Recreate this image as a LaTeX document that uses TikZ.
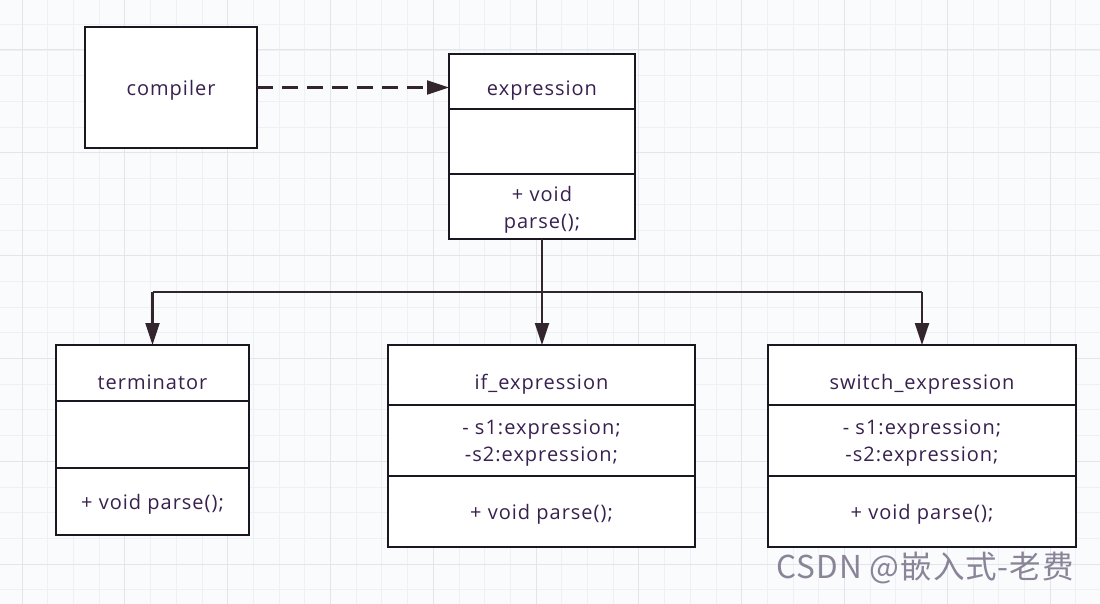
\documentclass[tikz,border=0pt]{standalone}
\usepackage{fontspec}
\setmainfont{Open Sans}[LetterSpace=5]
\newfontfamily\cjk{Noto Sans CJK SC}[LetterSpace=3]
\usetikzlibrary{arrows.meta}
\definecolor{gridmaj}{HTML}{E2E6EA}
\definecolor{gridmin}{HTML}{EEF1F4}
\definecolor{bgc}{HTML}{FAFBFD}
\definecolor{txt}{HTML}{38204F}
\definecolor{edgec}{HTML}{1B1722}
\definecolor{arrc}{HTML}{33252D}
\definecolor{wmc}{HTML}{8A8498}
\begin{document}
\begin{tikzpicture}[x=1pt,y=-1pt,
  cell/.style={draw=edgec, line width=2.3pt, fill=white, inner sep=0pt,
    outer sep=0pt, anchor=north west},
  txtl/.style={text=txt, font=\fontsize{20}{27}\selectfont, align=center, yshift=-3pt},
  ttl/.style={txtl, yshift=-6pt},
  conn/.style={draw=arrc, line width=2.3pt, -{Triangle[length=22pt,width=14pt]}},
  dashconn/.style={conn, dash pattern=on 16pt off 9pt}]
\useasboundingbox (0,0) rectangle (1100,604);
\fill[bgc] (0,0) rectangle (1100,604);
% grid
\foreach \i in {0,...,42} \draw[gridmin, line width=0.8pt] (22+\i*25.7,0) -- (22+\i*25.7,604);
\foreach \j in {0,...,24} \draw[gridmin, line width=0.8pt] (0,-1.4+\j*25.7) -- (1100,-1.4+\j*25.7);
\foreach \i in {0,...,10} \draw[gridmaj, line width=1pt] (22+\i*102.8,0) -- (22+\i*102.8,604);
\foreach \j in {-1,0,...,5} \draw[gridmaj, line width=1pt] (0,50+\j*102.8) -- (1100,50+\j*102.8);

% compiler
\node[cell, minimum width=172pt, minimum height=121pt, label={[txtl]center:compiler}] (comp) at (85,27) {};

% expression
\node[cell, minimum width=186pt, minimum height=55pt, label={[ttl]center:expression}] (exp1) at (449,54) {};
\node[cell, minimum width=186pt, minimum height=65pt] (exp2) at (449,109) {};
\node[cell, minimum width=186pt, minimum height=65pt, label={[txtl]center:+ void\\parse();}] (exp3) at (449,174) {};

% terminator
\node[cell, minimum width=193pt, minimum height=56pt, label={[ttl]center:terminator}] (term1) at (56,345) {};
\node[cell, minimum width=193pt, minimum height=67pt] (term2) at (56,401) {};
\node[cell, minimum width=193pt, minimum height=67pt, label={[txtl]center:+ void parse();}] (term3) at (56,468) {};

% if_expression
\node[cell, minimum width=307pt, minimum height=60pt, label={[ttl]center:if\_expression}] (if1) at (388,345) {};
\node[cell, minimum width=307pt, minimum height=71pt, label={[txtl]center:- s1:expression;\\-s2:expression;}] (if2) at (388,405) {};
\node[cell, minimum width=307pt, minimum height=71pt, label={[txtl]center:+ void parse();}] (if3) at (388,476) {};

% switch_expression
\node[cell, minimum width=308pt, minimum height=60pt, label={[ttl]center:switch\_expression}] (sw1) at (768,345) {};
\node[cell, minimum width=308pt, minimum height=71pt, label={[txtl]center:- s1:expression;\\-s2:expression;}] (sw2) at (768,405) {};
\node[cell, minimum width=308pt, minimum height=71pt, label={[txtl]center:+ void parse();}] (sw3) at (768,476) {};

% connectors
\draw[dashconn] (comp.east) -- (comp.east -| exp1.west);
\coordinate (bus) at (exp3.south |- 0,292);
\draw[draw=arrc, line width=2.3pt] (exp3.south) -- (bus);
\draw[draw=arrc, line width=2.3pt] (bus -| term1.north) -- (bus -| sw1.north);
\draw[conn] (bus) -- (bus |- if1.north);
\draw[conn] (bus -| term1.north) -- (term1.north);
\draw[conn] (bus -| sw1.north) -- (sw1.north);

% watermark
\node[text=wmc, font=\cjk\fontsize{31.5}{33}\selectfont, anchor=east, inner sep=0pt] (wm) at (1074,568) {CSDN @嵌入式-老费};
\end{tikzpicture}
\end{document}
